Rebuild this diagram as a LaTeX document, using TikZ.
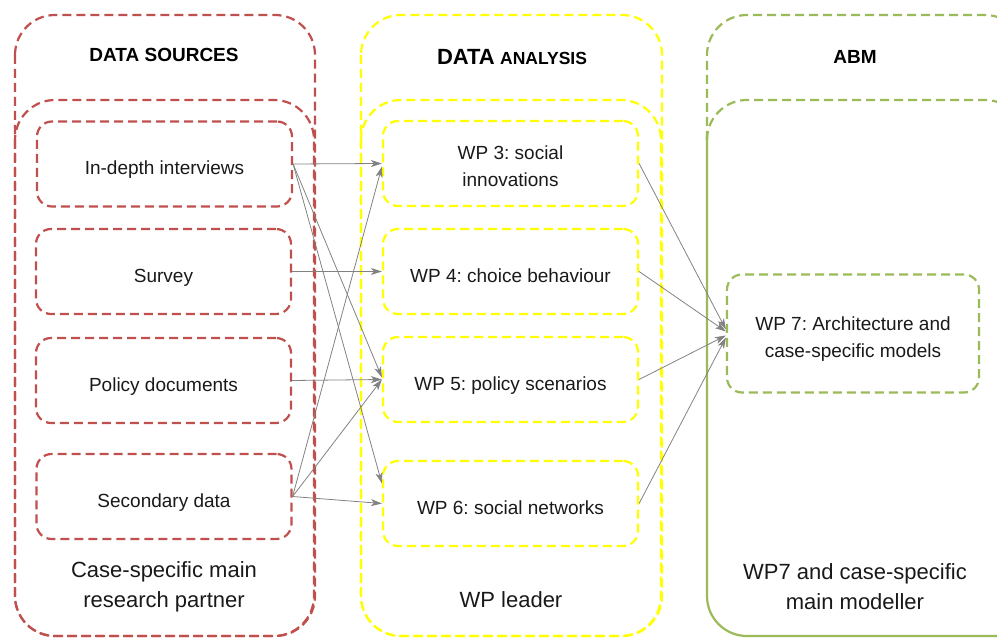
\documentclass[tikz,border=0pt]{standalone}
\usepackage{fontspec}
\setmainfont{Liberation Sans}
\usetikzlibrary{arrows.meta}
\frenchspacing

\definecolor{srcred}{RGB}{192,80,77}
\definecolor{anayellow}{RGB}{255,255,0}
\definecolor{abmgreen}{RGB}{155,187,89}
\definecolor{linkgray}{RGB}{130,130,130}
\definecolor{txt}{RGB}{25,25,25}

\tikzset{
  dashline/.style={line width=2.2pt, dash pattern=on 9pt off 5pt},
  column/.style={dashline, rounded corners=40pt},
  itembox/.style={dashline, rounded corners=15pt, minimum width=255pt,
    minimum height=85pt, align=center, text=txt,
    font=\fontsize{19}{27}\selectfont},
  oneline/.style={text height=22pt, text depth=0pt},
  twoline/.style={text height=47pt, text depth=0pt},
  heading/.style={font=\bfseries\fontsize{19}{23}\selectfont, text=black},
  footer/.style={align=center, text=txt, font=\fontsize{22}{30}\selectfont},
  link/.style={draw=linkgray, line width=0.8pt,
    -{Stealth[length=11pt, width=7pt, inset=3pt]}}
}

\begin{document}
\begin{tikzpicture}[x=1pt, y=-1pt]
  \useasboundingbox (0,0) rectangle (997,639);
  \clip (0,0) rectangle (997,639);

  % column frames
  \draw[column, draw=srcred] (15,15) rectangle (315,636);
  \draw[column, draw=srcred] (15,100) rectangle (314,636);

  \draw[column, draw=anayellow] (361,15) rectangle (662,636);
  \draw[column, draw=anayellow] (361,100) rectangle (661,636);

  \draw[column, draw=abmgreen] (707,140) -- (707,15) -- (1025,15) -- (1025,140);
  \draw[column, draw=abmgreen] (707,140) -- (707,100) -- (1025,100) -- (1025,140);
  \draw[draw=abmgreen, line width=2.2pt, rounded corners=40pt]
    (707,136) -- (707,636) -- (1025,636);

  % headings
  \node[heading] (hsrc) at (164,55) {DATA SOURCES};
  \node[heading] (hana) at (512,57)
    {{\fontsize{22}{24}\selectfont DATA} {\fontsize{17.5}{20}\selectfont ANALYSIS}};
  \node[heading] (habm) at (855,57) {ABM};

  % data sources
  \node[itembox, oneline, draw=srcred] (ind) at (164.5,164) {In-depth interviews};
  \node[itembox, oneline, draw=srcred] (sur) at (163.5,271.5) {Survey};
  \node[itembox, oneline, draw=srcred] (pol) at (163.5,380.5) {Policy documents};
  \node[itembox, oneline, draw=srcred] (sec) at (164,496.5) {Secondary data};

  % work packages
  \node[itembox, twoline, draw=anayellow] (wp3) at (510.5,163.5) {WP 3: social\\innovations};
  \node[itembox, oneline, draw=anayellow] (wp4) at (510.5,271.5) {WP 4: choice behaviour};
  \node[itembox, oneline, draw=anayellow] (wp5) at (510.5,379.5) {WP 5: policy scenarios};
  \node[itembox, oneline, draw=anayellow] (wp6) at (510.5,503.5) {WP 6: social networks};

  % model
  \node[itembox, twoline, draw=abmgreen, minimum width=252pt, minimum height=118pt]
    (wp7) at (853,333.5) {WP 7: Architecture and\\case-specific models};

  % footers
  \node[footer] (fsrc) at (164,587) {Case-specific main\\research partner};
  \node[footer] (fana) at (511,600) {WP leader};
  \node[footer] (fabm) at (855,587) {WP7 and case-specific\\main modeller};

  % sources to work packages
  \draw[link] (ind.east) -- (wp3.west);
  \draw[link] (ind.east) -- ([yshift=2pt]wp5.west);
  \draw[link] (ind.east) -- ([yshift=20pt]wp6.west);
  \draw[link] (sur.east) -- (wp4.west);
  \draw[link] (pol.east) -- (wp5.west);
  \draw[link] (sec.east) -- ([yshift=-3pt]wp3.west);
  \draw[link] (sec.east) -- (wp5.west);
  \draw[link] (sec.east) -- (wp6.west);

  % work packages to model
  \draw[link] (wp3.east) -- ([yshift=4pt]wp7.west);
  \draw[link] (wp4.east) -- ([yshift=2pt]wp7.west);
  \draw[link] (wp5.east) -- ([yshift=-2pt]wp7.west);
  \draw[link] (wp6.east) -- ([yshift=-4pt]wp7.west);
\end{tikzpicture}
\end{document}
